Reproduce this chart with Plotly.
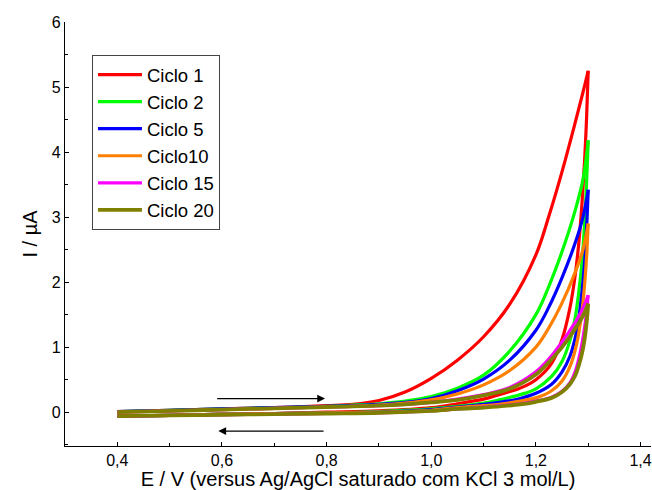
import plotly.graph_objects as go

# Potential grids (V)
E_fwd = [0.4, 0.5, 0.6, 0.7, 0.8, 0.85, 0.9, 0.95, 1.0, 1.05, 1.1, 1.15, 1.2, 1.225, 1.25, 1.275, 1.29, 1.3]
E_rev = [1.3, 1.297, 1.293, 1.288, 1.282, 1.275, 1.265, 1.25, 1.23, 1.2, 1.17, 1.13, 1.1, 1.05, 1.0, 0.9, 0.8, 0.7, 0.6, 0.5, 0.4]

# Forward scan currents (µA)
ciclo1_fwd = [0.01, 0.03, 0.05, 0.07, 0.10, 0.12, 0.18, 0.31, 0.52, 0.8, 1.16, 1.66, 2.42, 3.02, 3.7, 4.45, 4.92, 5.25]
ciclo2_fwd = [0.01, 0.03, 0.05, 0.07, 0.09, 0.11, 0.13, 0.17, 0.24, 0.37, 0.57, 0.94, 1.5, 1.94, 2.47, 3.1, 3.58, 4.18]
ciclo5_fwd = [0.01, 0.03, 0.05, 0.07, 0.09, 0.10, 0.12, 0.15, 0.21, 0.33, 0.51, 0.8, 1.26, 1.62, 2.07, 2.6, 3.0, 3.42]
ciclo10_fwd = [0.00, 0.02, 0.04, 0.06, 0.08, 0.09, 0.11, 0.14, 0.19, 0.28, 0.42, 0.64, 1.0, 1.3, 1.68, 2.15, 2.5, 2.9]
ciclo15_fwd = [0.00, 0.02, 0.04, 0.06, 0.08, 0.09, 0.10, 0.12, 0.15, 0.20, 0.27, 0.38, 0.62, 0.82, 1.08, 1.38, 1.6, 1.8]
ciclo20_fwd = [0.00, 0.02, 0.04, 0.06, 0.08, 0.09, 0.10, 0.12, 0.15, 0.19, 0.26, 0.36, 0.58, 0.77, 1.0, 1.28, 1.48, 1.67]

# Reverse scan currents (µA)
ciclo1_rev = [5.25, 4.55, 3.85, 3.2, 2.6, 2.1, 1.6, 1.12, 0.75, 0.5, 0.37, 0.27, 0.2, 0.13, 0.07, 0.02, 0.0, -0.02, -0.03, -0.05, -0.06]
ciclo2_rev = [4.18, 3.55, 2.9, 2.3, 1.85, 1.45, 1.1, 0.78, 0.55, 0.36, 0.27, 0.19, 0.14, 0.09, 0.05, 0.01, -0.01, -0.02, -0.03, -0.05, -0.06]
ciclo5_rev = [3.42, 2.85, 2.3, 1.85, 1.45, 1.14, 0.86, 0.62, 0.43, 0.29, 0.21, 0.15, 0.12, 0.08, 0.04, 0.0, -0.01, -0.02, -0.03, -0.05, -0.06]
ciclo10_rev = [2.9, 2.4, 1.95, 1.55, 1.22, 0.95, 0.7, 0.48, 0.33, 0.22, 0.17, 0.12, 0.1, 0.07, 0.03, 0.0, -0.01, -0.02, -0.03, -0.05, -0.06]
ciclo15_rev = [1.8, 1.55, 1.3, 1.05, 0.82, 0.62, 0.45, 0.32, 0.23, 0.17, 0.13, 0.1, 0.08, 0.05, 0.02, -0.01, -0.02, -0.03, -0.04, -0.05, -0.06]
ciclo20_rev = [1.67, 1.38, 1.12, 0.9, 0.72, 0.56, 0.43, 0.31, 0.22, 0.16, 0.12, 0.09, 0.07, 0.05, 0.02, -0.01, -0.02, -0.03, -0.04, -0.05, -0.06]

labels = ["Ciclo 1", "Ciclo 2", "Ciclo 5", "Ciclo10", "Ciclo 15", "Ciclo 20"]
colors = ["#FF0000", "#00FF00", "#0000FF", "#FF8000", "#FF00FF", "#808000"]
fwd = [ciclo1_fwd, ciclo2_fwd, ciclo5_fwd, ciclo10_fwd, ciclo15_fwd, ciclo20_fwd]
rev = [ciclo1_rev, ciclo2_rev, ciclo5_rev, ciclo10_rev, ciclo15_rev, ciclo20_rev]
widths = [3.2, 3.2, 3.2, 3.2, 3.2, 3.8]

x_ticks = [0.4, 0.6, 0.8, 1.0, 1.2, 1.4]
y_ticks = [0, 1, 2, 3, 4, 5, 6]

fig = go.Figure()
for lab, col, f, r, w in zip(labels, colors, fwd, rev, widths):
    fig.add_trace(go.Scatter(x=E_fwd, y=f, mode="lines", name=lab, legendgroup=lab,
                             line=dict(color=col, width=w, shape="spline", smoothing=1.0)))
    fig.add_trace(go.Scatter(x=E_rev, y=r, mode="lines", name=lab, legendgroup=lab, showlegend=False,
                             line=dict(color=col, width=w, shape="spline", smoothing=1.0)))

# scan direction arrows
fig.add_annotation(x=0.797, y=0.21, ax=0.588, ay=0.21, xref="x", yref="y", axref="x", ayref="y",
                   text="", showarrow=True, arrowhead=2, arrowsize=1.3, arrowwidth=1.2, arrowcolor="black")
fig.add_annotation(x=0.593, y=-0.29, ax=0.797, ay=-0.29, xref="x", yref="y", axref="x", ayref="y",
                   text="", showarrow=True, arrowhead=2, arrowsize=1.3, arrowwidth=1.2, arrowcolor="black")

fig.update_layout(
    width=652, height=490,
    margin=dict(l=65, r=1, t=22, b=44),
    paper_bgcolor="white", plot_bgcolor="white",
    separators=",.",
    font=dict(family="Liberation Sans, Arial, sans-serif", color="black", size=16),
    showlegend=True,
    legend=dict(x=0.046, y=0.922, xanchor="left", yanchor="top",
                bgcolor="white", bordercolor="#444", borderwidth=1,
                font=dict(size=18.5), itemwidth=44, tracegroupgap=0),
    xaxis=dict(range=[0.3, 1.42], tickvals=x_ticks, tickformat=".1f", automargin=False,
               showgrid=False, zeroline=False, showline=True, linecolor="black", linewidth=1.2,
               ticks="inside", ticklen=4, tickcolor="black",
               minor=dict(dtick=0.1, tick0=0.3, ticks="inside", ticklen=3, tickcolor="black"),
               tickfont=dict(size=16), ticklabeloverflow="allow",
               title=dict(text="E / V (versus Ag/AgCl saturado com KCl 3 mol/L)", font=dict(size=20), standoff=1)),
    yaxis=dict(range=[-0.52, 6], tickvals=y_ticks, automargin=False,
               showgrid=False, zeroline=False, showline=True, linecolor="black", linewidth=1.2,
               ticks="inside", ticklen=4, tickcolor="black",
               minor=dict(dtick=0.5, tick0=0, ticks="inside", ticklen=3, tickcolor="black"),
               tickfont=dict(size=16),
               title=dict(text="I / µA", font=dict(size=20), standoff=8)),
)

# remove the default 8px page margin so the 652x490 figure fills the window exactly
fig.write_html("out.html", config={"displayModeBar": False},
               post_script="document.body.style.margin='0px';document.body.style.overflow='hidden';")
